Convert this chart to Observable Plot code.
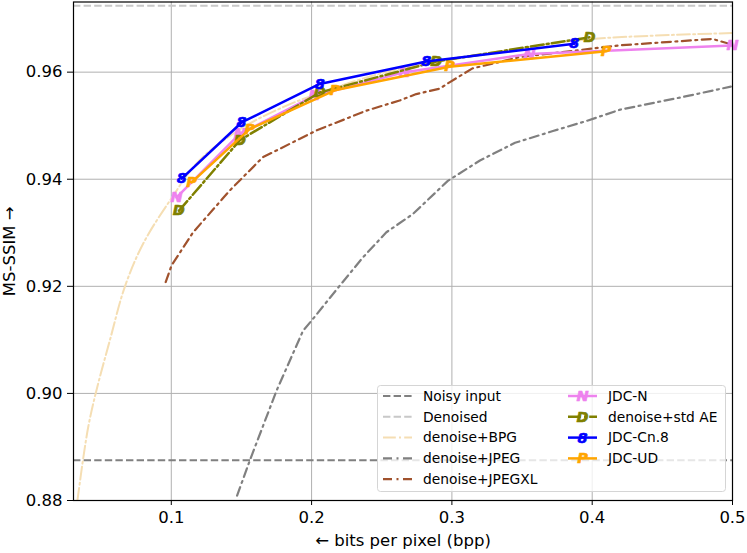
<!DOCTYPE html>
<html>
<head>
<meta charset="utf-8">
<script src="https://cdn.jsdelivr.net/npm/d3@7"></script>
<script src="https://cdn.jsdelivr.net/npm/@observablehq/plot@0.6"></script>
<style>
  html, body { margin: 0; padding: 0; background: #fff; }
  #wrap { position: relative; width: 747px; height: 553px; font-family: "DejaVu Sans", sans-serif; }
  #legend { position: absolute; left: 377px; top: 385px; }
</style>
</head>
<body>
<div id="wrap"><div id="chart"></div><div id="legend"></div></div>
<script>
// ---- data ----
const xTicks = [0.1, 0.2, 0.3, 0.4, 0.5];
const yTicks = [0.88, 0.90, 0.92, 0.94, 0.96];

const noisyY = 0.8875;
const denoisedY = 0.9724;

const bpgX = [0.0331, 0.0373, 0.0410, 0.0461, 0.0563, 0.0670, 0.0800, 0.0990, 0.1200, 0.1500, 0.1800, 0.2100, 0.2500, 0.2800, 0.3500, 0.4000, 0.5000];
const bpgY = [0.8800, 0.8880, 0.8940, 0.9000, 0.9100, 0.9200, 0.9280, 0.9360, 0.9435, 0.9495, 0.9535, 0.9565, 0.9598, 0.9615, 0.9645, 0.9662, 0.9673];

const jpegX = [0.1469, 0.1560, 0.1750, 0.1939, 0.2000, 0.2200, 0.2366, 0.2533, 0.2722, 0.2971, 0.3200, 0.3450, 0.3720, 0.3950, 0.4200, 0.4690, 0.4988];
const jpegY = [0.8809, 0.8875, 0.9005, 0.9117, 0.9136, 0.9201, 0.9254, 0.9301, 0.9335, 0.9397, 0.9435, 0.9468, 0.9490, 0.9508, 0.9530, 0.9556, 0.9573];

const jxlX = [0.0960, 0.1002, 0.1156, 0.1417, 0.1652, 0.2034, 0.2390, 0.2627, 0.2746, 0.2912, 0.2983, 0.3147, 0.3481, 0.4193, 0.4857, 0.4976];
const jxlY = [0.9208, 0.9239, 0.9301, 0.9379, 0.9441, 0.9491, 0.9528, 0.9547, 0.9559, 0.9569, 0.9581, 0.9607, 0.9628, 0.9650, 0.9662, 0.9653];

const jdcNX = [0.1038, 0.1489, 0.2022, 0.2663, 0.3553, 0.5000];
const jdcNY = [0.9366, 0.9485, 0.9556, 0.9600, 0.9634, 0.9650];

const stdAEX = [0.1054, 0.1489, 0.2058, 0.2889, 0.3980];
const stdAEY = [0.9341, 0.9473, 0.9562, 0.9620, 0.9665];

const cn8X = [0.1074, 0.1501, 0.2058, 0.2817, 0.3873];
const cn8Y = [0.9401, 0.9506, 0.9578, 0.9620, 0.9653];

const udX = [0.1145, 0.1560, 0.2165, 0.2983, 0.4099];
const udY = [0.9394, 0.9494, 0.9566, 0.9610, 0.9639];

const legendNames = ["Noisy input", "Denoised", "denoise+BPG", "denoise+JPEG", "denoise+JPEGXL", "JDC-N", "denoise+std AE", "JDC-Cn.8", "JDC-UD"];

// ---- styles ----
const zip = (xs, ys) => xs.map((x, i) => ({x, y: ys[i]}));
const dashD = "7.4,3.2";
const dashDot = "12.8,3.2,2,3.2";
const dashDot2 = "9,4.5,2,4.5";
const styles = {
  "Noisy input":    {stroke: "#808080", width: 2, dash: dashD},
  "Denoised":       {stroke: "#c8c8c8", width: 2, dash: dashD},
  "denoise+BPG":    {stroke: "wheat", width: 2, dash: dashDot, curve: "catmull-rom"},
  "denoise+JPEG":   {stroke: "gray", width: 2.2, dash: dashDot2},
  "denoise+JPEGXL": {stroke: "sienna", width: 2.2, dash: dashDot2},
  "JDC-N":          {stroke: "violet", width: 2.5, dash: null, marker: "N"},
  "denoise+std AE": {stroke: "olive", width: 2.5, dash: dashDot, marker: "D"},
  "JDC-Cn.8":       {stroke: "blue", width: 2.5, dash: null, marker: "8"},
  "JDC-UD":         {stroke: "orange", width: 2.5, dash: null, marker: "P"}
};
const series = {
  "denoise+BPG": zip(bpgX, bpgY),
  "denoise+JPEG": zip(jpegX, jpegY),
  "denoise+JPEGXL": zip(jxlX, jxlY),
  "JDC-N": zip(jdcNX, jdcNY),
  "denoise+std AE": zip(stdAEX, stdAEY),
  "JDC-Cn.8": zip(cn8X, cn8Y),
  "JDC-UD": zip(udX, udY)
};

const markerText = (data, s) => Plot.text(data, {
  x: "x", y: "y", text: () => s.marker, fill: s.stroke, stroke: s.stroke, strokeWidth: 0.6,
  fontSize: 14.5, fontWeight: "bold", fontStyle: "italic", fontFamily: "DejaVu Sans", textAnchor: "middle"
});

const marks = [
  Plot.gridX(xTicks, {stroke: "#b0b0b0", strokeOpacity: 1, strokeWidth: 1}),
  Plot.gridY(yTicks, {stroke: "#b0b0b0", strokeOpacity: 1, strokeWidth: 1}),
  Plot.ruleY([noisyY], {stroke: styles["Noisy input"].stroke, strokeWidth: 2, strokeDasharray: dashD}),
  Plot.ruleY([denoisedY], {stroke: styles["Denoised"].stroke, strokeWidth: 2, strokeDasharray: dashD})
];
for (const name of legendNames.slice(2)) {
  const s = styles[name];
  marks.push(Plot.line(series[name], {x: "x", y: "y", stroke: s.stroke, strokeWidth: s.width,
    strokeDasharray: s.dash || undefined, clip: true, curve: s.curve || "linear"}));
  if (s.marker) marks.push(markerText(series[name], s));
}
marks.push(Plot.frame({stroke: "black", strokeWidth: 1.2}));
marks.push(Plot.axisX(xTicks, {tickSize: 5, tickPadding: 6, tickFormat: d3.format(".1f"),
  label: "← bits per pixel (bpp)", labelAnchor: "center", labelOffset: 45, labelArrow: "none", fontSize: 16.5}));
marks.push(Plot.axisY(yTicks, {tickSize: 6, tickPadding: 5, tickFormat: d3.format(".2f"),
  label: "MS-SSIM →", labelAnchor: "center", labelOffset: 70, labelArrow: "none", fontSize: 16.5}));

const chart = Plot.plot({
  width: 747, height: 553,
  marginLeft: 73, marginRight: 15, marginTop: 1.5, marginBottom: 53,
  x: {domain: [0.0303, 0.5]},
  y: {domain: [0.88, 0.9731]},
  style: {fontFamily: "DejaVu Sans, sans-serif", fontSize: "16.5px", color: "black", background: "white", overflow: "visible"},
  marks
});
document.getElementById("chart").appendChild(chart);

// ---- legend ----
const lw = 349, lh = 107;
const leg = d3.select("#legend").append("svg").attr("width", lw).attr("height", lh)
  .style("font-family", "DejaVu Sans, sans-serif");
leg.append("rect").attr("x", 0.5).attr("y", 0.5).attr("width", lw - 1).attr("height", lh - 1)
  .attr("rx", 3).attr("fill", "rgba(255,255,255,0.8)").attr("stroke", "#d5d5d5");
legendNames.forEach((name, i) => {
  const s = styles[name];
  const col = i < 5 ? 0 : 1, row = i < 5 ? i : i - 5;
  const x0 = col === 0 ? 6 : 191, tx = col === 0 ? 46 : 231;
  const cy = 11 + row * 20.8;
  const g = leg.append("g");
  g.append("line").attr("x1", x0).attr("x2", x0 + 29).attr("y1", cy).attr("y2", cy)
    .attr("stroke", s.stroke).attr("stroke-width", s.width)
    .attr("stroke-dasharray", s.dash || null);
  if (s.marker) {
    g.append("text").attr("x", x0 + 14.5).attr("y", cy).attr("dy", "0.35em").attr("text-anchor", "middle")
      .attr("fill", s.stroke).attr("stroke", s.stroke).attr("stroke-width", 0.6)
      .attr("font-size", 14.5).attr("font-weight", "bold").attr("font-style", "italic").text(s.marker);
  }
  g.append("text").attr("x", tx).attr("y", cy).attr("dy", "0.35em").attr("font-size", 13.8)
    .attr("fill", "black").text(name);
});
</script>
</body>
</html>
